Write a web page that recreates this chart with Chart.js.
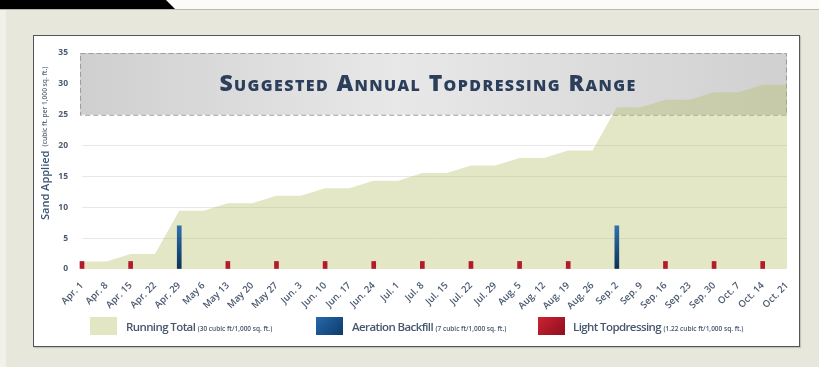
<!DOCTYPE html>
<html>
<head>
<meta charset="utf-8">
<script src="https://cdn.jsdelivr.net/npm/chart.js@4"></script>
<style>
  html,body{margin:0;padding:0;}
  #page{position:relative;width:819px;height:367px;background:#e8e7dc;overflow:hidden;font-family:"Open Sans",sans-serif;}
  #topwhite{position:absolute;left:0;top:0;width:819px;height:9px;background:#fbfbf8;border-bottom:1px solid #b9b8ae;}
  #tab{position:absolute;left:0;top:0;width:175px;height:9px;background:#000;clip-path:polygon(0 0,166px 0,175px 9px,0 9px);}
  #leftstrip{position:absolute;left:0;top:10px;width:6px;height:357px;background:#f1f0e9;}
  #panel{position:absolute;left:33px;top:35px;width:765px;height:310px;background:#fff;border:1.5px solid #555;box-shadow:1px 1px 1px rgba(0,0,0,0.15);}
  #c{position:absolute;left:0;top:0;}
  #ytitle{position:absolute;left:37px;top:60px;height:160px;width:16px;writing-mode:vertical-rl;transform:rotate(180deg);white-space:nowrap;color:#3c5474;line-height:16px;}
  #ytitle .big{font-size:11px;font-weight:600;}
  #ytitle .small{font-size:6.6px;font-weight:600;color:#5a6a80;}
  #bandtitle{position:absolute;left:0;width:856px;top:68px;text-align:center;font-variant:small-caps;font-weight:800;font-size:23px;letter-spacing:1.4px;color:#2b3f5c;line-height:28px;}
  .sw{position:absolute;top:317px;width:27px;height:18px;}
  .lt{position:absolute;top:318px;line-height:17px;white-space:nowrap;color:#46576e;font-weight:600;font-size:11.5px;letter-spacing:-0.6px;}
  .lt .s{font-size:6.5px;letter-spacing:0;font-weight:600;}
</style>
</head>
<body>
<div id="page">
  <div id="topwhite"></div>
  <div id="tab"></div>
  <div id="leftstrip"></div>
  <div id="panel"></div>
  <canvas id="c" width="819" height="367"></canvas>
  <div id="ytitle"><span class="big">Sand Applied</span> <span class="small">(cubic ft. per 1,000 sq. ft.)</span></div>
  <div id="bandtitle">Suggested Annual Topdressing Range</div>
  <div class="sw" style="left:90px;background:#e3e6c3;"></div>
  <div class="lt" style="left:126px;">Running Total <span class="s">(30 cubic ft/1,000 sq. ft.)</span></div>
  <div class="sw" style="left:316px;background:linear-gradient(135deg,#2669aa,#0d3a6b);"></div>
  <div class="lt" style="left:352px;">Aeration Backfill <span class="s">(7 cubic ft/1,000 sq. ft.)</span></div>
  <div class="sw" style="left:538px;background:linear-gradient(135deg,#cc2233,#8e0f1c);"></div>
  <div class="lt" style="left:573px;">Light Topdressing <span class="s">(1.22 cubic ft/1,000 sq. ft.)</span></div>
</div>
<script>
const weeks = ["Apr. 1","Apr. 8","Apr. 15","Apr. 22","Apr. 29","May 6","May 13","May 20","May 27","Jun. 3","Jun. 10","Jun. 17","Jun. 24","Jul. 1","Jul. 8","Jul. 15","Jul. 22","Jul. 29","Aug. 5","Aug. 12","Aug. 19","Aug. 26","Sep. 2","Sep. 9","Sep. 16","Sep. 23","Sep. 30","Oct. 7","Oct. 14","Oct. 21"];
const runningTotal = [1.22,1.22,2.44,2.44,9.44,9.44,10.66,10.66,11.88,11.88,13.10,13.10,14.32,14.32,15.54,15.54,16.76,16.76,17.98,17.98,19.20,19.20,26.20,26.20,27.42,27.42,28.64,28.64,29.86,29.86];
const aerationBackfill = [null,null,null,null,7,null,null,null,null,null,null,null,null,null,null,null,null,null,null,null,null,null,7,null,null,null,null,null,null,null];
const lightTopdressing = [1.22,null,1.22,null,null,null,1.22,null,1.22,null,1.22,null,1.22,null,1.22,null,1.22,null,1.22,null,1.22,null,null,null,1.22,null,1.22,null,1.22,null];
const yTicks = [0,5,10,15,20,25,30,35];
const rangeMin = 25, rangeMax = 35;

const bandPlugin = {
  id:'band',
  beforeDatasetsDraw(chart){
    const {ctx, chartArea:a, scales:{y}} = chart;
    const t = y.getPixelForValue(rangeMax), b = y.getPixelForValue(rangeMin);
    const l = a.left - 2, r = a.right;
    ctx.save();
    const g = ctx.createLinearGradient(l,0,r,0);
    g.addColorStop(0,'#cfcfcf');
    g.addColorStop(0.45,'#e8e8e8');
    g.addColorStop(1,'#d0d0d0');
    ctx.fillStyle = g;
    ctx.fillRect(l,t,r-l,b-t);
    ctx.setLineDash([5,3]);
    ctx.strokeStyle = '#9c9c9c';
    ctx.lineWidth = 1;
    ctx.strokeRect(l+0.5,t+0.5,r-l-1,b-t);
    ctx.restore();
  }
};

function vgrad(ctx, top, bottom){
  const c = ctx.chart; const a = c.chartArea;
  if(!a) return bottom;
  const g = c.ctx.createLinearGradient(0,a.top+ (a.bottom-a.top)*0.75,0,a.bottom);
  g.addColorStop(0,top); g.addColorStop(1,bottom);
  return g;
}

new Chart(document.getElementById('c'), {
  type:'bar',
  data:{
    labels: weeks,
    datasets:[
      {type:'line', label:'Running Total', data: runningTotal, fill:'origin', backgroundColor:'rgba(181,192,102,0.38)', borderWidth:0, pointRadius:0, tension:0, order:2},
      {label:'Aeration Backfill', data: aerationBackfill, backgroundColor:(c)=>vgrad(c,'#3a82c4','#0c3158'), barThickness:4, grouped:false, order:0, clip:false},
      {label:'Light Topdressing', data: lightTopdressing, backgroundColor:'#b31b2a', barThickness:4, grouped:false, order:0, clip:false}
    ]
  },
  options:{
    responsive:false, animation:false,
    layout:{padding:{top:53,right:32,bottom:48,left:0}},
    plugins:{legend:{display:false}, tooltip:{enabled:false}},
    scales:{
      x:{
        offset:false,
        grid:{display:false, offset:false},
        border:{display:false},
        ticks:{autoSkip:false, maxRotation:45, minRotation:45, padding:3, color:'#4b5a70', font:{family:'Open Sans', size:9.5, weight:'600'}},
        afterFit(s){ s.height = 50; }
      },
      y:{
        min:0, max:35, z:1,
        afterBuildTicks(s){ s.ticks = yTicks.map(v=>({value:v})); },
        grid:{drawTicks:false, color:(c)=> (c.tick && (c.tick.value===0||c.tick.value===25||c.tick.value===35)) ? 'rgba(0,0,0,0)' : 'rgba(120,120,120,0.18)'},
        border:{display:false},
        ticks:{padding:14, color:'#4d5c72', font:{family:'Open Sans', size:8.5, weight:'700'}},
        afterFit(s){ s.width = 82; }
      }
    }
  },
  plugins:[bandPlugin]
});
</script>
</body>
</html>
